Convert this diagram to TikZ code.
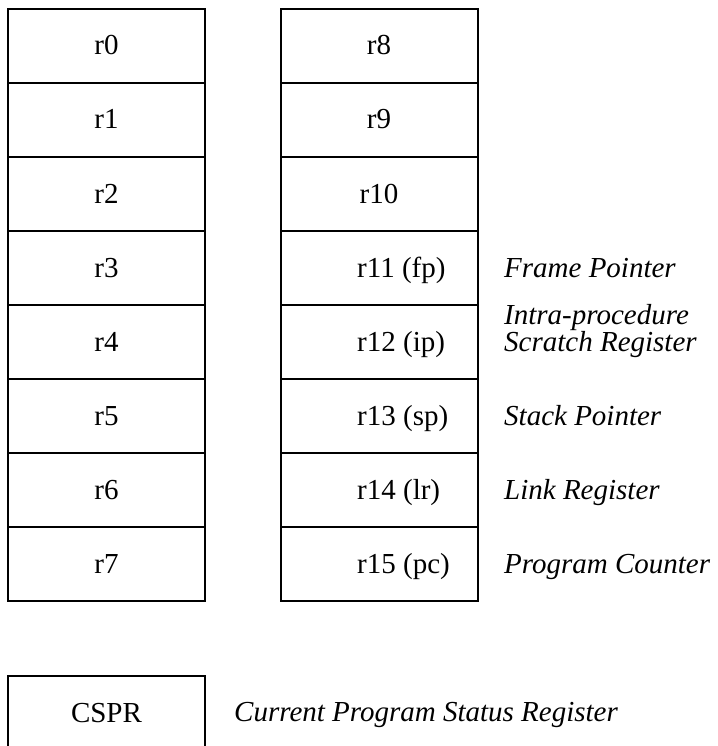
\documentclass[tikz,border=0pt]{standalone}
\usepackage{fontspec}
\setmainfont{Liberation Serif}
\begin{document}
\begin{tikzpicture}[x=1pt,y=-1pt,
  reg/.style={draw, line width=2pt, minimum width=197pt, minimum height=74pt,
              inner sep=0pt, text height=18pt, text depth=0pt},
  regtext/.style={anchor=base west, inner sep=0pt},
  note/.style={anchor=base west, inner sep=0pt, font=\itshape}]
  \clip (0,0) rectangle (717,746);
  \fill[white] (0,0) rectangle (717,746);
  \fontsize{29}{34}\selectfont
  % left bank r0..r7
  \foreach \i in {0,...,7} {
    \node[reg] (L\i) at (106.5, 46+74*\i) {r\i};
  }
  % right bank r8..r10 (centred labels)
  \node[reg] (R8)  at (379, 46)        {r8};
  \node[reg] (R9)  at (379, 46+74)     {r9};
  \node[reg] (R10) at (379, 46+148)    {r10};
  % right bank r11..r15 (labels set from a common left edge)
  \foreach \n [count=\k from 3] in {11,...,15} {
    \node[reg] (R\n) at (379, 46+74*\k) {};
  }
  \node[regtext] (t11) at (357, 46+74*3+9) {r11 (fp)};
  \node[regtext] (t12) at (357, 46+74*4+9) {r12 (ip)};
  \node[regtext] (t13) at (357, 46+74*5+9) {r13 (sp)};
  \node[regtext] (t14) at (357, 46+74*6+9) {r14 (lr)};
  \node[regtext] (t15) at (357, 46+74*7+9) {r15 (pc)};
  % descriptions
  \node[note] (fp) at (504, 46+74*3+9) {Frame Pointer};
  \node[note] (ip1) at (504, 324) {Intra-procedure};
  \node[note] (ip2) at (504, 351) {Scratch Register};
  \node[note] (sp) at (504, 46+74*5+9) {Stack Pointer};
  \node[note] (lr) at (504, 46+74*6+9) {Link Register};
  \node[note] (pc) at (504, 46+74*7+9) {Program Counter};
  % status register
  \node[reg] (cpsr) at (106.5, 713) {CSPR};
  \node[note] (cpsrtext) at (234, 721) {Current Program Status Register};
\end{tikzpicture}
\end{document}
